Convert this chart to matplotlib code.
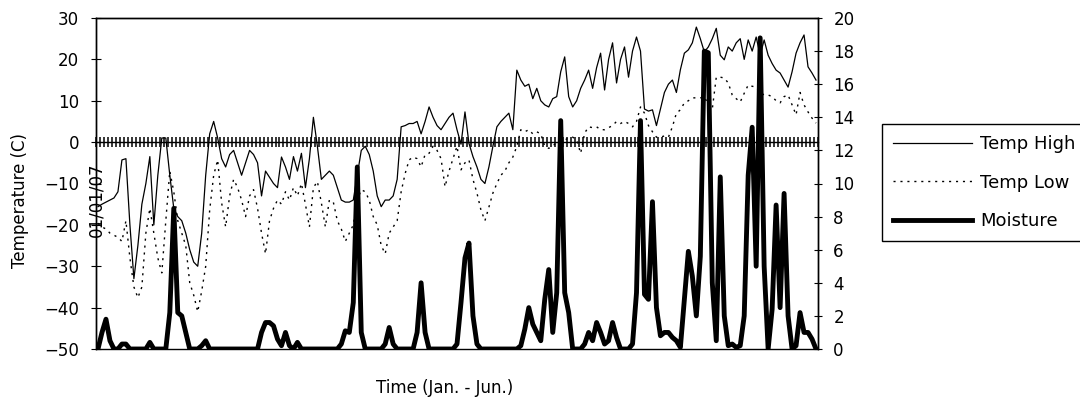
#!/usr/bin/env python3
"""
Daily temperature (high / low) and soil moisture, Jan. - Jun. 2007
two y axes: temperature on the left, moisture on the right
"""

import numpy as np
import pandas as pd
import matplotlib
matplotlib.use("Agg")
import matplotlib.pyplot as plt


# one category per day
days = pd.date_range("2007-01-01", "2007-06-30", freq="D")

# temperature (C)
temp_high = [
    -15.6, -15, -14.5, -14, -13.5, -12, -4.3, -4, -20, -33,
    -25, -15, -10, -3.5, -20, -8, 1, 1, -8, -16,
    -18, -19, -22, -26, -29, -30, -22, -8, 2, 5,
    1, -4, -6, -3, -2, -5, -8, -5, -2, -3,
    -5, -13, -7, -8.5, -10, -11, -3.6, -6, -9, -3.5,
    -7, -2.7, -11, -4, 6, -1, -9, -8, -7, -8,
    -11, -14, -14.5, -14.5, -14, -8, -2, -1, -3, -7,
    -13, -15.6, -14, -14, -13, -9, 3.7, 4, 4.5, 4.5,
    5, 2, 5, 8.5, 6, 4, 3, 4.5, 6, 7,
    3, -0.5, 7.3, -0.3, -3.5, -6, -9, -10, -6, -1,
    3.7, 5, 6, 7, 3, 17.4, 15, 13.5, 14, 10.5,
    13, 10, 9, 8.5, 10.5, 11, 17, 20.6, 11, 8.5,
    10, 13, 15, 17.4, 13, 18, 21.5, 12.6, 20, 24,
    14.3, 20, 23, 15.7, 22, 25.4, 22, 8, 7.5, 7.8,
    4, 8, 12, 14, 15, 12, 17.5, 21.5, 22.3, 24,
    27.8, 25, 21.8, 23, 25, 27.5, 21, 19.9, 23, 22,
    24, 25, 20, 24.7, 22, 25.4, 21, 24.7, 21, 19,
    17.4, 16.7, 15, 13.3, 17, 21.5, 24, 25.9, 18.2, 16.7,
    15,
]

temp_low = [
    -19.6, -20.5, -21, -22, -22.5, -23, -24, -19, -28, -35,
    -37.6, -35, -22, -16, -22, -28, -31.6, -19, -7, -12,
    -19, -22, -25, -34, -37, -41, -36, -30, -16.4, -8,
    -4.3, -14.7, -20.5, -13, -9, -11, -14, -18, -13, -11.5,
    -16, -22, -27, -19, -16, -14, -15, -12, -14, -11,
    -13, -10, -15, -20.5, -11, -9.5, -14.7, -20.5, -14, -14.5,
    -19, -21, -24, -22, -20, -14, -11.5, -12, -14, -18,
    -20, -25, -27, -22, -20.5, -19, -12, -7.6, -4.3, -3.6,
    -4, -6, -3, -2.7, -1, -2, -4, -10.8, -7, -4,
    -1, -6.7, -5, -4.3, -9, -12.3, -16.4, -19, -15.7, -12.3,
    -10, -8, -7, -5, -3.6, -1, 3, 2.5, 3, 2,
    2.5, 2, -1, -1.5, -1, 0, 0.5, 0.5, 1, 1.2,
    0.5, -2.7, 2.2, 3.7, 3.5, 3.7, 3, 3, 3.5, 4,
    5, 4.5, 5, 4.5, 3.7, 5, 8.5, 7, 4, 2.5,
    1.2, 1.2, 1.5, 1.2, 3.7, 7, 7.8, 9.5, 10, 10.7,
    10.7, 10.7, 11, 9, 8, 15.7, 15.7, 15.5, 14.3, 11.4,
    10.5, 9.7, 11.8, 13.8, 13.5, 13.3, 12, 11.4, 11.4, 11,
    10, 9.5, 11, 11.4, 9, 6.6, 12, 9, 7.3, 5.8,
    4.6,
]

# moisture, right axis
moisture = [
    0, 1, 1.8, 0.5, 0, 0, 0.3, 0.3, 0, 0,
    0, 0, 0, 0.4, 0, 0, 0, 0, 2.2, 8.5,
    2.2, 2, 1, 0, 0, 0, 0.2, 0.5, 0, 0,
    0, 0, 0, 0, 0, 0, 0, 0, 0, 0,
    0, 1, 1.6, 1.6, 1.4, 0.6, 0.2, 1, 0.2, 0,
    0.4, 0, 0, 0, 0, 0, 0, 0, 0, 0,
    0, 0.3, 1.1, 1, 2.8, 11, 1, 0, 0, 0,
    0, 0, 0.3, 1.3, 0.3, 0, 0, 0, 0, 0,
    1, 4, 1, 0, 0, 0, 0, 0, 0, 0,
    0.3, 2.8, 5.5, 6.4, 2, 0.3, 0, 0, 0, 0,
    0, 0, 0, 0, 0, 0, 0.2, 1.2, 2.5, 1.5,
    1, 0.5, 3, 4.8, 1, 3.4, 13.8, 3.4, 2.2, 0,
    0, 0, 0.3, 1, 0.5, 1.6, 1, 0.3, 0.5, 1.6,
    0.7, 0, 0, 0, 0.3, 3.4, 13.8, 3.3, 3, 8.9,
    2.5, 0.8, 1, 1, 0.7, 0.5, 0.1, 3, 5.9, 4.4,
    2, 5.6, 18, 17.9, 4, 0.5, 10.4, 2, 0.2, 0.3,
    0.1, 0.2, 2, 10.5, 13.4, 5, 18.8, 5, 0, 2.4,
    8.7, 2.5, 9.4, 2, 0, 0.2, 2.2, 1, 1, 0.6,
    0,
]

temp_ticks = list(range(-50, 31, 10))
moisture_ticks = list(range(0, 21, 2))


def main():
    assert len(temp_high) == len(temp_low) == len(moisture) == len(days)

    plt.rcParams['font.family'] = ['DejaVu Sans']
    plt.rcParams['font.size'] = 12

    W, H = 1080, 403
    fig = plt.figure(figsize=(W / 100, H / 100), dpi=100)
    # plot area in pixels: x 96..818, y 18..349
    ax = fig.add_axes([96 / W, 1 - 349 / H, 722 / W, 331 / H])
    ax2 = ax.twinx()

    x = np.arange(len(days))
    ax.plot(x, temp_high, color='black', lw=0.9, label='Temp High')
    ax.plot(x, temp_low, color='black', lw=1.0, linestyle=(0, (1.5, 3.5)),
            label='Temp Low')
    ax2.plot(x, moisture, color='black', lw=3.5, label='Moisture')

    ax.set_xlim(-0.5, len(days) - 0.5)
    ax.set_ylim(-50, 30)
    ax2.set_ylim(0, 20)

    # category axis crossing at 0 C, a tick between every day
    ax.spines['bottom'].set_position(('data', 0))
    ax.set_xticks(np.arange(len(days) + 1) - 0.5)
    xlabels = [''] * (len(days) + 1)
    xlabels[0] = days[0].strftime('%m/%d/%y')
    ax.set_xticklabels(xlabels)
    ax.tick_params(axis='x', direction='inout', length=7.5, width=1.1,
                   pad=11, labelrotation=90)

    ax.set_yticks(temp_ticks)
    ax.tick_params(axis='y', direction='inout', length=6.5, width=0.8, pad=9)
    ax2.set_yticks(moisture_ticks)
    ax2.tick_params(axis='y', direction='inout', length=6, width=0.8, pad=8)

    for a in (ax, ax2):
        for s in a.spines.values():
            s.set_linewidth(1.0)
            s.set_color('black')

    fig.text(20 / W, 1 - 200 / H, 'Temperature (C)', rotation=90,
             ha='center', va='center')
    fig.text(445 / W, 1 - 388 / H, 'Time (Jan. - Jun.)',
             ha='center', va='center')

    # legend box runs off the right edge, as in the original
    handles = ax.get_lines() + ax2.get_lines()
    leg = fig.legend(handles, [h.get_label() for h in handles],
                     loc='upper left', bbox_to_anchor=(882 / W, 1 - 124 / H),
                     borderaxespad=0, frameon=True, fancybox=False,
                     edgecolor='black', framealpha=1, fontsize=13,
                     handlelength=4.4, handletextpad=0.45,
                     labelspacing=1.15, borderpad=0.6)
    leg.get_frame().set_linewidth(1.0)

    fig.savefig('out.png', dpi=100)


if __name__ == "__main__":
    main()
